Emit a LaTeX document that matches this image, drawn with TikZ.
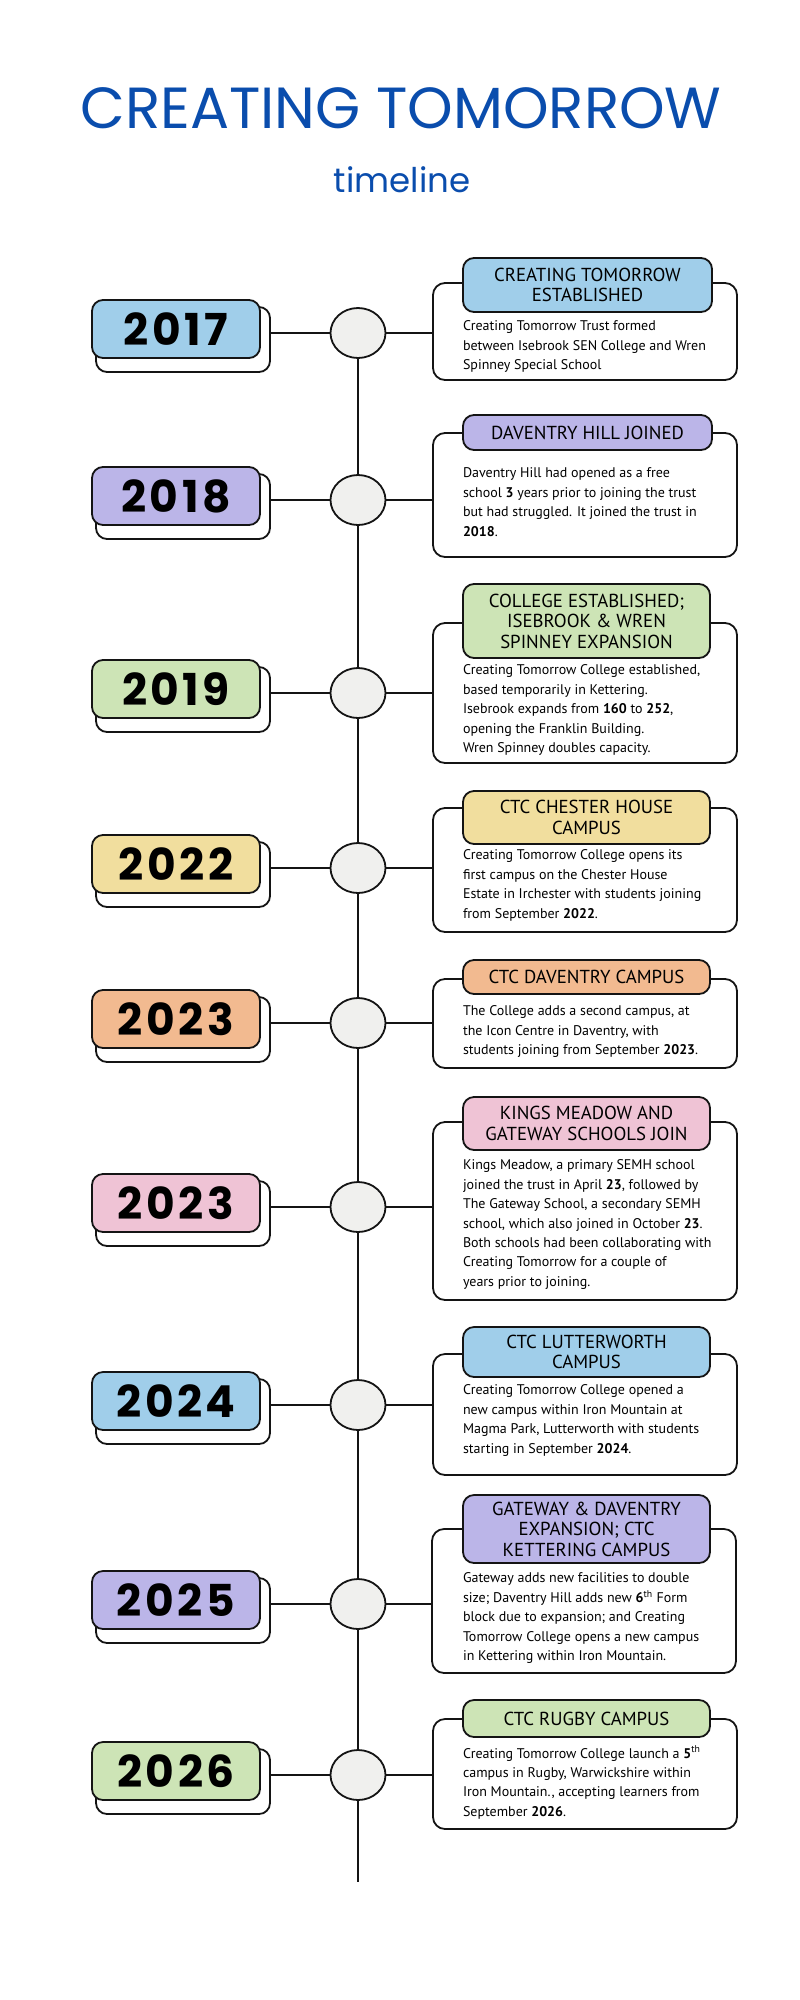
\documentclass[tikz,border=0pt]{standalone}
\usepackage{fontspec}
\setmainfont{PT Sans}
\newfontfamily\poppins{Poppins}
\newfontfamily\ptsans{PT Sans}
\usetikzlibrary{shapes.geometric}
\definecolor{tblue}{RGB}{10,77,173}
\definecolor{cblue}{RGB}{160,206,234}
\definecolor{cpurple}{RGB}{187,181,232}
\definecolor{cgreen}{RGB}{205,228,182}
\definecolor{cyellow}{RGB}{241,222,158}
\definecolor{corange}{RGB}{242,186,144}
\definecolor{cpink}{RGB}{239,195,213}
\definecolor{ink}{RGB}{20,20,20}
\definecolor{dotgray}{RGB}{240,240,238}
\newcommand\yrow[4]{%
  \node[yshadow] (ys#1) at (183,#2+6.5) {};
  \node[yfront, fill=#3] (yf#1) at (176,#2-4) {#4};
  \node[dot] (d#1) at (358,#2) {};
  \draw[conn] (ys#1.east |- d#1.west) -- (d#1.west);
}
\begin{document}
\begin{tikzpicture}[x=1pt,y=-1pt,
  every node/.style={inner sep=0pt, outer sep=0pt},
  ln/.style={draw=ink, line width=1.8pt},
  conn/.style={draw=ink, line width=2pt},
  yshadow/.style={ln, fill=white, rounded corners=11pt, minimum width=174pt, minimum height=65pt},
  yfront/.style={ln, rounded corners=11pt, minimum width=168pt, minimum height=58pt,
    font=\poppins\bfseries\fontsize{44}{44}\selectfont\addfontfeature{LetterSpace=8}},
  dot/.style={ln, ellipse, fill=dotgray, minimum width=55pt, minimum height=50pt},
  card/.style={ln, fill=white, rounded corners=12pt, minimum width=304pt, anchor=north west},
  tab/.style={ln, rounded corners=11pt, minimum width=247pt, anchor=north west, align=center,
    font=\ptsans\fontsize{18.8}{20.5}\selectfont},
  body/.style={anchor=north west, align=left, font=\ptsans\fontsize{14}{19.4}\selectfont}]
\fill[white] (0,0) rectangle (800,2000);
\useasboundingbox (0,0) rectangle (800,2000);

% title
\node[anchor=base, text=tblue] (title) at (401,128)
  {\resizebox{641pt}{!}{\poppins CREATING TOMORROW}};
\node[anchor=base, text=tblue, font=\poppins\fontsize{34}{34}\selectfont] (sub) at (402,192) {timeline};

% year rows
\yrow{1}{333}{cblue}{2017}
\yrow{2}{500}{cpurple}{2018}
\yrow{3}{693}{cgreen}{2019}
\yrow{4}{868}{cyellow}{2022}
\yrow{5}{1023}{corange}{2023}
\yrow{6}{1207}{cpink}{2023}
\yrow{7}{1405}{cblue}{2024}
\yrow{8}{1604}{cpurple}{2025}
\yrow{9}{1775}{cgreen}{2026}

% timeline spine
\coordinate (lineend) at (358,1882);
\draw[conn] (d1.south) -- (d2.north);
\draw[conn] (d2.south) -- (d3.north);
\draw[conn] (d3.south) -- (d4.north);
\draw[conn] (d4.south) -- (d5.north);
\draw[conn] (d5.south) -- (d6.north);
\draw[conn] (d6.south) -- (d7.north);
\draw[conn] (d7.south) -- (d8.north);
\draw[conn] (d8.south) -- (d9.north);
\draw[conn] (d9.south) -- (lineend);

% cards
\node[card, minimum height=97pt] (k1) at (433,283) {};
\node[tab, fill=cblue, minimum height=54pt, minimum width=249pt] (t1) at (463,258) {CREATING TOMORROW\\ESTABLISHED};
\node[body] (b1) at (463,321) {Creating Tomorrow Trust formed\\between Isebrook SEN College and Wren\\Spinney Special School};

\node[card, minimum height=124pt] (k2) at (433,433) {};
\node[tab, fill=cpurple, minimum height=35pt, minimum width=249pt] (t2) at (463,415) {DAVENTRY HILL JOINED};
\node[body] (b2) at (463,468) {Daventry Hill had opened as a free\\school \textbf{3} years prior to joining the trust\\but had struggled. It joined the trust in\\\textbf{2018}.};

\node[card, minimum height=140pt] (k3) at (433,623) {};
\node[tab, fill=cgreen, minimum height=74pt] (t3) at (463,584) {COLLEGE ESTABLISHED;\\ISEBROOK \& WREN\\SPINNEY EXPANSION};
\node[body] (b3) at (463,665) {Creating Tomorrow College established,\\based temporarily in Kettering.\\Isebrook expands from \textbf{160} to \textbf{252},\\opening the Franklin Building.\\Wren Spinney doubles capacity.};

\node[card, minimum height=124pt] (k4) at (433,808) {};
\node[tab, fill=cyellow, minimum height=53pt] (t4) at (463,791) {CTC CHESTER HOUSE\\CAMPUS};
\node[body] (b4) at (463,850) {Creating Tomorrow College opens its\\first campus on the Chester House\\Estate in Irchester with students joining\\from September \textbf{2022}.};

\node[card, minimum height=89pt] (k5) at (433,979) {};
\node[tab, fill=corange, minimum height=34pt] (t5) at (463,960) {CTC DAVENTRY CAMPUS};
\node[body] (b5) at (463,1006) {The College adds a second campus, at\\the Icon Centre in Daventry, with\\students joining from September \textbf{2023}.};

\node[card, minimum height=178pt] (k6) at (433,1122) {};
\node[tab, fill=cpink, minimum height=53pt] (t6) at (463,1097) {KINGS MEADOW AND\\GATEWAY SCHOOLS JOIN};
\node[body] (b6) at (463,1160) {Kings Meadow, a primary SEMH school\\joined the trust in April \textbf{23}, followed by\\The Gateway School, a secondary SEMH\\school, which also joined in October \textbf{23}.\\Both schools had been collaborating with\\Creating Tomorrow for a couple of\\years prior to joining.};

\node[card, minimum height=121pt] (k7) at (433,1354) {};
\node[tab, fill=cblue, minimum height=50pt] (t7) at (463,1327) {CTC LUTTERWORTH\\CAMPUS};
\node[body] (b7) at (463,1385) {Creating Tomorrow College opened a\\new campus within Iron Mountain at\\Magma Park, Lutterworth with students\\starting in September \textbf{2024}.};

\node[card, minimum height=144pt] (k8) at (432,1529) {};
\node[tab, fill=cpurple, minimum height=68pt] (t8) at (463,1495) {GATEWAY \& DAVENTRY\\EXPANSION; CTC\\KETTERING CAMPUS};
\node[body] (b8) at (463,1573) {Gateway adds new facilities to double\\size; Daventry Hill adds new \textbf{6}\textsuperscript{th} Form\\block due to expansion; and Creating\\Tomorrow College opens a new campus\\in Kettering within Iron Mountain.};

\node[card, minimum height=110pt] (k9) at (433,1719) {};
\node[tab, fill=cgreen, minimum height=37pt] (t9) at (463,1700) {CTC RUGBY CAMPUS};
\node[body] (b9) at (463,1746) {Creating Tomorrow College launch a \textbf{5}\textsuperscript{th}\\campus in Rugby, Warwickshire within\\Iron Mountain., accepting learners from\\September \textbf{2026}.};

% connectors dot -> card
\foreach \i in {1,...,9} {
  \draw[conn] (d\i.east) -- (k\i.west |- d\i.east);
}
\end{tikzpicture}
\end{document}
